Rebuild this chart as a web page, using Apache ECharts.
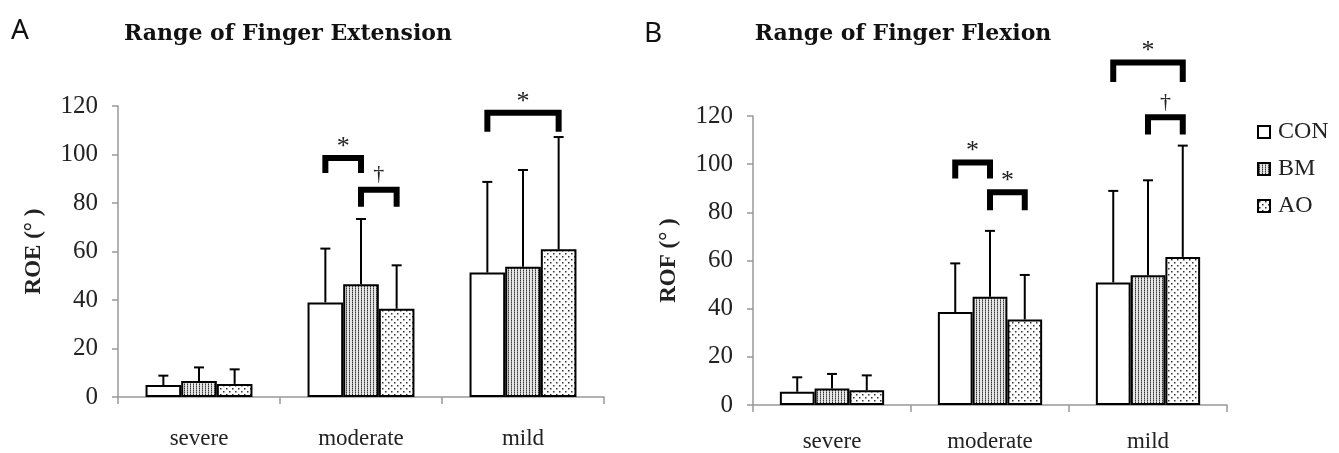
<!DOCTYPE html>
<html><head><meta charset="utf-8">
<script src="https://cdn.jsdelivr.net/npm/echarts@6/dist/echarts.min.js"></script>
<style>html,body{margin:0;padding:0;background:#fff}#c{width:1339px;height:453px}</style>
</head><body><div id="c"></div>
<script>
// ---- data ----
const categories = ['severe', 'moderate', 'mild'];
const groups = ['CON', 'BM', 'AO'];
const yMin = 0, yMax = 120, yStep = 20;

// Panel A: Range of Finger Extension (ROE), mean and SD
const roeCON = [4.9, 39.0, 51.3];
const roeBM  = [6.6, 46.5, 53.7];
const roeAO  = [5.4, 36.4, 60.9];
const roeCONsd = [3.9, 22.2, 37.4];
const roeBMsd  = [5.6, 26.9, 39.9];
const roeAOsd  = [6.0, 17.9, 46.3];

// Panel B: Range of Finger Flexion (ROF), mean and SD
const rofCON = [5.5, 38.6, 50.9];
const rofBM  = [6.8, 44.9, 53.9];
const rofAO  = [6.1, 35.5, 61.5];
const rofCONsd = [6.0, 20.2, 38.0];
const rofBMsd  = [6.1, 27.4, 39.4];
const rofAOsd  = [6.2, 18.5, 46.2];

// significance brackets: [category, fromGroup, toGroup, bracket level, leg end, label]
const roeBrackets = [
  [1, 0, 1, 98.6, 92.4, '*'],
  [1, 1, 2, 85.5, 78.5, '†'],
  [2, 0, 2, 117.2, 109.4, '*']
];
const rofBrackets = [
  [1, 0, 1, 100.7, 94.0, '*'],
  [1, 1, 2, 88.3, 80.9, '*'],
  [2, 1, 2, 119.5, 112.3, '†'],
  [2, 0, 2, 142.2, 134.1, '*']
];

// ---- styling helpers ----
const BAR_FRAC = 0.22;
function makePattern(kind) {
  const cv = document.createElement('canvas');
  if (kind === 'BM') {
    cv.width = 3; cv.height = 2;
    const g = cv.getContext('2d');
    g.fillStyle = '#e6e6e6'; g.fillRect(0, 0, 3, 2);
    g.fillStyle = '#3a3a3a'; g.fillRect(1, 0, 1, 1);
    g.fillStyle = '#8a8a8a'; g.fillRect(1, 1, 1, 1);
  } else {
    cv.width = 6; cv.height = 6;
    const g = cv.getContext('2d');
    g.fillStyle = '#ffffff'; g.fillRect(0, 0, 6, 6);
    g.fillStyle = '#333333';
    g.fillRect(1, 1, 1.5, 1.5);
    g.fillRect(4, 4, 1.5, 1.5);
  }
  return { image: cv, repeat: 'repeat' };
}
const fills = { CON: '#ffffff', BM: makePattern('BM'), AO: makePattern('AO') };

const serif = "'Liberation Serif', 'Times New Roman', serif";
const titleFont = "'DejaVu Serif', serif";

function errRender(params, api) {
  const cat = api.value(0), mean = api.value(1), sd = api.value(2), g = api.value(3);
  const c = api.coord([cat, mean]);
  const bw = api.size([1, 0])[0] * BAR_FRAC;
  const x = c[0] + (g - 1) * bw;
  const top = api.coord([cat, mean + sd])[1];
  return { type: 'group', children: [
    { type: 'line', shape: { x1: x, y1: c[1], x2: x, y2: top }, style: { stroke: '#000', lineWidth: 2 } },
    { type: 'line', shape: { x1: x - 5, y1: top, x2: x + 5, y2: top }, style: { stroke: '#000', lineWidth: 2 } }
  ]};
}

function makeBracketRender(list) {
  return function (params, api) {
    const b = list[params.dataIndex];
    const cat = b[0];
    const c = api.coord([cat, b[3]]);
    const cb = api.coord([cat, b[4]]);
    const bw = api.size([1, 0])[0] * BAR_FRAC;
    const x1 = c[0] + (b[1] - 1) * bw, x2 = c[0] + (b[2] - 1) * bw;
    const isStar = b[5] === '*';
    return { type: 'group', children: [
      { type: 'polyline', shape: { points: [[x1, cb[1]], [x1, c[1]], [x2, c[1]], [x2, cb[1]]] },
        style: { stroke: '#000', lineWidth: 6, fill: null, lineJoin: 'miter', lineCap: 'butt' } },
      { type: 'text', x: (x1 + x2) / 2, y: c[1] - (isStar ? 11 : 15),
        style: { text: b[5], fontSize: isStar ? 26 : 22, fontFamily: serif, fill: '#222',
                 align: 'center', verticalAlign: 'middle', textAlign: 'center', textVerticalAlign: 'middle' } }
    ]};
  };
}

function barSeries(name, values, axisIdx) {
  return {
    type: 'bar', name: name, xAxisIndex: axisIdx, yAxisIndex: axisIdx,
    data: values, barWidth: (BAR_FRAC * 100) + '%', barGap: '0%',
    itemStyle: { color: fills[name], borderColor: '#000', borderWidth: 2 },
    emphasis: { disabled: true }, animation: false
  };
}
function errSeries(means, sds, axisIdx) {
  const d = [];
  means.forEach((arr, g) => arr.forEach((m, i) => d.push([i, m, sds[g][i], g])));
  return { type: 'custom', xAxisIndex: axisIdx, yAxisIndex: axisIdx, renderItem: errRender,
           data: d, encode: { x: 0, y: 1 }, z: 5, silent: true, animation: false };
}
function bracketSeries(list, axisIdx) {
  return { type: 'custom', xAxisIndex: axisIdx, yAxisIndex: axisIdx, renderItem: makeBracketRender(list),
           data: list.map(b => [b[0], b[3]]), encode: { x: 0, y: 1 }, clip: false, z: 6, silent: true, animation: false };
}

function xAxis(gridIndex, margin) {
  return {
    type: 'category', gridIndex: gridIndex, data: categories, boundaryGap: true,
    axisLine: { lineStyle: { color: '#999', width: 1.5 } },
    axisTick: { show: true, length: 7, lineStyle: { color: '#999', width: 1.5 } },
    axisLabel: { margin: margin, fontSize: 23, fontFamily: serif, color: '#222' }
  };
}
function yAxis(gridIndex, name) {
  return {
    type: 'value', gridIndex: gridIndex, min: yMin, max: yMax, interval: yStep,
    name: name, nameLocation: 'middle', nameGap: 72, nameRotate: 90,
    nameTextStyle: { fontSize: 23, fontFamily: serif, fontWeight: 'bold', color: '#222' },
    axisLine: { show: true, lineStyle: { color: '#999', width: 1.5 } },
    axisTick: { show: true, length: 6, lineStyle: { color: '#999', width: 1.5 } },
    splitLine: { show: false },
    axisLabel: { margin: 20, fontSize: 25, fontFamily: serif, color: '#222' }
  };
}

const chart = echarts.init(document.getElementById('c'), null, { renderer: 'canvas' });
chart.setOption({
  backgroundColor: '#fff',
  animation: false,
  grid: [
    { left: 118, top: 106, width: 486, height: 291, outerBoundsMode: 'none' },
    { left: 753, top: 116, width: 474, height: 289, outerBoundsMode: 'none' }
  ],
  xAxis: [xAxis(0, 30), xAxis(1, 25)],
  yAxis: [yAxis(0, 'ROE (° )'), yAxis(1, 'ROF (° )')],
  legend: {
    orient: 'vertical', left: 1252, top: 115, itemGap: 13,
    itemWidth: 12, itemHeight: 12, icon: 'rect',
    data: groups,
    itemStyle: { borderColor: '#000', borderWidth: 2 },
    textStyle: { fontSize: 24, fontFamily: serif, color: '#222', padding: [0, 0, 0, 3] },
    selectedMode: false
  },
  graphic: [
    { type: 'text', x: 20, y: 31, style: { text: 'A', fontSize: 28, fontFamily: "'Noto Sans', sans-serif", fill: '#111', align: 'center', verticalAlign: 'middle', textAlign: 'center', textVerticalAlign: 'middle' } },
    { type: 'text', x: 653, y: 34, style: { text: 'B', fontSize: 28, fontFamily: "'Noto Sans', sans-serif", fill: '#111', align: 'center', verticalAlign: 'middle', textAlign: 'center', textVerticalAlign: 'middle' } },
    { type: 'text', x: 288, y: 34, style: { text: 'Range of Finger Extension', fontSize: 22, fontWeight: 'bold', fontFamily: titleFont, fill: '#111', align: 'center', verticalAlign: 'middle', textAlign: 'center', textVerticalAlign: 'middle' } },
    { type: 'text', x: 903, y: 34, style: { text: 'Range of Finger Flexion', fontSize: 22, fontWeight: 'bold', fontFamily: titleFont, fill: '#111', align: 'center', verticalAlign: 'middle', textAlign: 'center', textVerticalAlign: 'middle' } }
  ],
  series: [
    barSeries('CON', roeCON, 0), barSeries('BM', roeBM, 0), barSeries('AO', roeAO, 0),
    barSeries('CON', rofCON, 1), barSeries('BM', rofBM, 1), barSeries('AO', rofAO, 1),
    errSeries([roeCON, roeBM, roeAO], [roeCONsd, roeBMsd, roeAOsd], 0),
    errSeries([rofCON, rofBM, rofAO], [rofCONsd, rofBMsd, rofAOsd], 1),
    bracketSeries(roeBrackets, 0),
    bracketSeries(rofBrackets, 1)
  ]
});
</script></body></html>
